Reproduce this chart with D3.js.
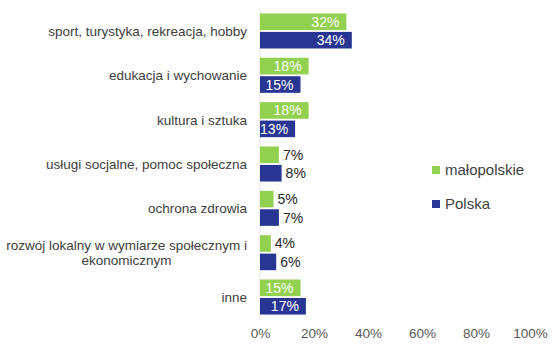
<!DOCTYPE html>
<html>
<head>
<meta charset="utf-8">
<script src="https://cdn.jsdelivr.net/npm/d3@7/dist/d3.min.js"></script>
<style>
  html, body { margin: 0; padding: 0; background: #fff; }
  svg { display: block; font-family: "Liberation Sans", Arial, sans-serif; }
</style>
</head>
<body>
<svg id="chart" width="556" height="359"></svg>
<script>
const categories = [
  "sport, turystyka, rekreacja, hobby",
  "edukacja i wychowanie",
  "kultura i sztuka",
  "usługi socjalne, pomoc społeczna",
  "ochrona zdrowia",
  "rozwój lokalny w wymiarze społecznym i|ekonomicznym",
  "inne"
];
const seriesNames = ["małopolskie", "Polska"];
const malopolskie = [32, 18, 18, 7, 5, 4, 15];
const polska = [34, 15, 13, 8, 7, 6, 17];
const tickValues = [0, 20, 40, 60, 80, 100];
const colors = ["#92d050", "#283593"];

const svg = d3.select("#chart");
const x = d3.scaleLinear().domain([0, 100]).range([260, 530]);
const y = d3.scaleBand().domain(categories).range([8.8, 319.2]).paddingInner(0.21).paddingOuter(0.105);
const ySub = d3.scaleBand().domain(seriesNames).range([0, y.bandwidth()]).paddingInner(0.1);

const data = categories.map((c, i) => ({ cat: c, vals: [malopolskie[i], polska[i]] }));

// faint vertical axis line
svg.append("line")
  .attr("x1", x(0)).attr("x2", x(0))
  .attr("y1", 8).attr("y2", 320)
  .attr("stroke", "#e3e3e3").attr("stroke-width", 1);

// bars
const groups = svg.selectAll("g.grp").data(data).enter().append("g")
  .attr("class", "grp")
  .attr("transform", d => `translate(0,${y(d.cat)})`);

groups.each(function(d) {
  const g = d3.select(this);
  d.vals.forEach((v, si) => {
    const yy = ySub(seriesNames[si]);
    const h = ySub.bandwidth();
    g.append("rect")
      .attr("x", x(0)).attr("y", yy)
      .attr("width", x(v) - x(0)).attr("height", h)
      .attr("fill", colors[si]);
    const w = x(v) - x(0);
    const inside = w > 30;
    g.append("text")
      .attr("x", inside ? x(v) - 7 : x(v) + 4)
      .attr("y", yy + h / 2)
      .attr("dy", "0.36em")
      .attr("text-anchor", inside ? "end" : "start")
      .attr("fill", inside ? "#ffffff" : "#262626")
      .attr("font-size", 14)
      .text(v + "%");
  });
});

// category labels
categories.forEach(c => {
  const lines = c.split("|");
  const cy = y(c) + y.bandwidth() / 2;
  const lh = 15;
  if (lines.length === 1) {
    svg.append("text")
      .attr("x", 247).attr("y", cy).attr("dy", "0.36em")
      .attr("text-anchor", "end")
      .attr("fill", "#404040").attr("font-size", 13.5)
      .text(lines[0]);
  } else {
    const t0 = svg.append("text")
      .attr("x", 247).attr("y", cy - lh / 2).attr("dy", "0.36em")
      .attr("text-anchor", "end")
      .attr("fill", "#404040").attr("font-size", 13.5)
      .text(lines[0]);
    const w0 = t0.node().getComputedTextLength();
    const center = 247 - w0 / 2;
    t0.attr("x", center).attr("text-anchor", "middle");
    svg.append("text")
      .attr("x", center).attr("y", cy + lh / 2).attr("dy", "0.36em")
      .attr("text-anchor", "middle")
      .attr("fill", "#404040").attr("font-size", 13.5)
      .text(lines[1]);
  }
});

// x axis tick labels
const axis = d3.axisBottom(x).tickValues(tickValues).tickSize(0).tickPadding(0).tickFormat(d => d + "%");
const ag = svg.append("g").attr("transform", "translate(0,328)").call(axis);
ag.select(".domain").remove();
ag.selectAll("text").attr("fill", "#595959").attr("font-size", 13.5)
  .attr("font-family", "Liberation Sans, Arial, sans-serif")
  .attr("dy", "0.71em");

// legend
const legendY = [170, 204];
seriesNames.forEach((s, i) => {
  svg.append("rect")
    .attr("x", 432).attr("y", legendY[i] - 4)
    .attr("width", 8).attr("height", 8)
    .attr("fill", colors[i]);
  svg.append("text")
    .attr("x", 445).attr("y", legendY[i]).attr("dy", "0.36em")
    .attr("fill", "#404040").attr("font-size", 15)
    .text(s);
});
</script>
</body>
</html>
